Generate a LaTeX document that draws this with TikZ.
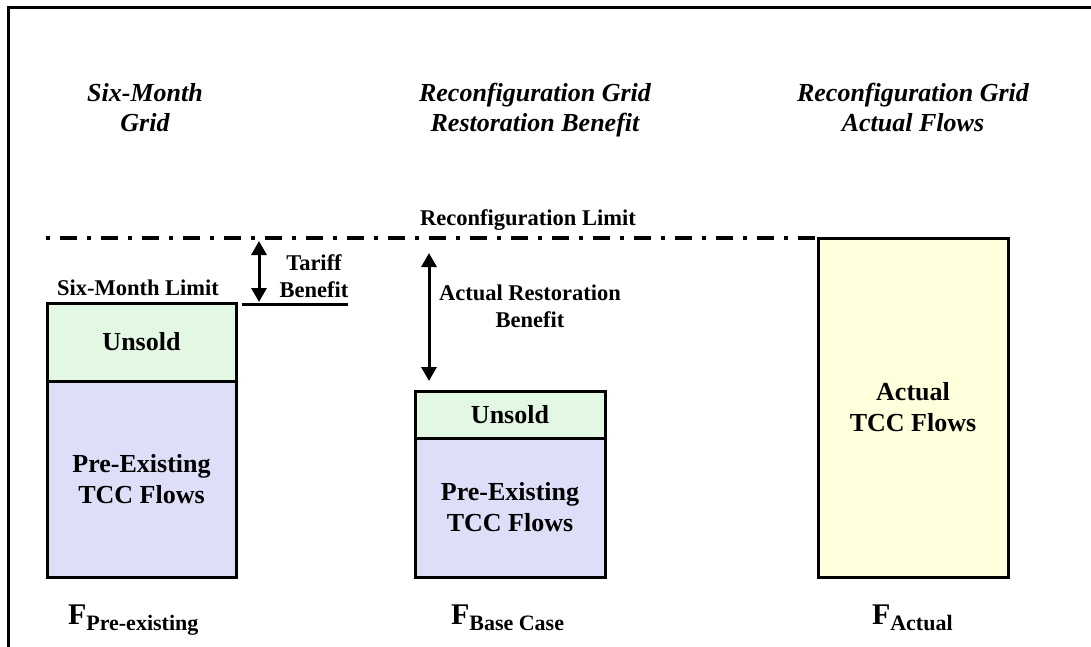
\documentclass[tikz,border=0pt]{standalone}
\usepackage{fontspec}
\setmainfont{Liberation Serif}
\usetikzlibrary{arrows.meta}
\definecolor{unsoldgreen}{HTML}{E3F8E3}
\definecolor{flowblue}{HTML}{DEDEF8}
\definecolor{actualyellow}{HTML}{FFFFDC}
\begin{document}
\begin{tikzpicture}[x=1pt,y=-1pt,
  every node/.style={inner sep=0pt, outer sep=0pt},
  barpart/.style={draw, line width=3pt, anchor=north west,
    font=\fontsize{26}{31}\selectfont\bfseries, align=center},
  heading/.style={font=\fontsize{26}{30}\selectfont\bfseries\itshape,
    align=center, anchor=north},
  smalllabel/.style={font=\fontsize{22.5}{27.5}\selectfont\bfseries,
    align=center},
  flowlabel/.style={anchor=base west},
  limitline/.style={line width=3.5pt, dash pattern=on 4pt off 10pt on 17pt off 10pt},
  benefitarrow/.style={line width=3pt,
    {Triangle[width=15pt,length=14pt]}-{Triangle[width=15pt,length=14pt]}}
]
\useasboundingbox (0,0) rectangle (1091,647);

% frame (top and left edges)
\draw[line width=3pt] (8,647) -- (8,8) -- (1091,8);

% column headings
\node[heading] (h1) at (145,83) {Six-Month\\Grid};
\node[heading] (h2) at (535,83) {Reconfiguration Grid\\Restoration Benefit};
\node[heading] (h3) at (913,83) {Reconfiguration Grid\\Actual Flows};

% six-month grid bar
\node[barpart, fill=unsoldgreen, minimum width=189pt, minimum height=78pt]
  (u1) at (47,303) {Unsold};
\node[barpart, fill=flowblue, minimum width=189pt, minimum height=196pt]
  (p1) at (47,381) {Pre-Existing\\TCC Flows};

% restoration benefit bar
\node[barpart, fill=unsoldgreen, minimum width=190pt, minimum height=47pt]
  (u2) at (415,391) {Unsold};
\node[barpart, fill=flowblue, minimum width=190pt, minimum height=139pt]
  (p2) at (415,438) {Pre-Existing\\TCC Flows};

% actual flows bar
\node[barpart, fill=actualyellow, minimum width=190pt, minimum height=339pt]
  (a3) at (818,238) {Actual\\TCC Flows};

% reconfiguration limit
\coordinate (limL) at (46,238);
\draw[limitline] (limL) -- (a3.north west);
\node[smalllabel, anchor=base] (rl) at (528,225) {Reconfiguration Limit};

% six-month limit and tariff benefit
\node[smalllabel, anchor=base] (sml) at (138,295) {Six-Month Limit};
\coordinate (tlL) at (242,304);
\coordinate (tlR) at (348,304);
\draw[line width=3pt] (tlL) -- (tlR);
\coordinate (taTop) at (259,241);
\coordinate (taBot) at (259,302);
\draw[benefitarrow] (taTop) -- (taBot);
\node[smalllabel, anchor=north] (tb) at (314,254.5) {Tariff\\Benefit};

% actual restoration benefit
\coordinate (raTop) at (429,253);
\coordinate (raBot) at (429,381);
\draw[benefitarrow] (raTop) -- (raBot);
\node[smalllabel, anchor=north] (rb) at (530,284.5) {Actual Restoration\\Benefit};

% flow symbols
\node[flowlabel] (f1) at (68,624)
  {\fontsize{30}{30}\selectfont\bfseries F\fontsize{22}{22}\selectfont\raisebox{-6pt}{Pre-existing}};
\node[flowlabel] (f2) at (451,624)
  {\fontsize{30}{30}\selectfont\bfseries F\fontsize{22}{22}\selectfont\raisebox{-6pt}{Base Case}};
\node[flowlabel] (f3) at (872,624)
  {\fontsize{30}{30}\selectfont\bfseries F\fontsize{22}{22}\selectfont\raisebox{-6pt}{Actual}};
\end{tikzpicture}
\end{document}
